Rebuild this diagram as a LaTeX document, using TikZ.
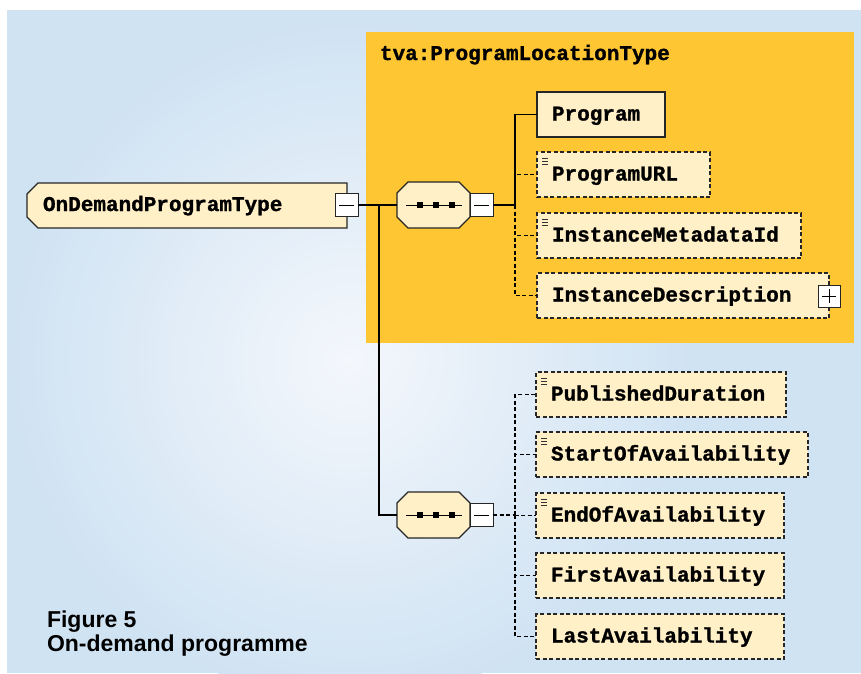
\documentclass[tikz,border=0pt]{standalone}
\usepackage{fontspec}
\setmainfont{Liberation Sans}
\setmonofont[BoldFeatures={FakeBold=1.2}]{Liberation Mono}
\usetikzlibrary{calc}
\definecolor{bgblue}{HTML}{D0E3F3}
\definecolor{bglight}{HTML}{F4F7FC}
\definecolor{orangebg}{HTML}{FEC632}
\definecolor{cream}{HTML}{FFF0C8}
\begin{document}
\begin{tikzpicture}[x=1pt,y=-1pt,
  every node/.style={inner sep=0pt, outer sep=0pt},
  elembox/.style={draw=black!85, line width=1.1pt, fill=cream, minimum height=45pt, anchor=north west},
  optbox/.style={elembox, dash pattern=on 4pt off 2.5pt},
  lbl/.style={font=\ttfamily\bfseries\fontsize{21}{25}\selectfont, text height=12pt, text depth=0pt, anchor=west},
  conn/.style={draw=black, line width=1.1pt},
  dconn/.style={conn, dash pattern=on 4pt off 2.5pt},
  btn/.style={draw=black!85, fill=white, line width=1pt, minimum width=23pt, minimum height=23pt, anchor=west},
  seqshape/.style={draw=black!85, line width=1.1pt, fill=cream},
  icon/.style={draw=black!80, line width=0.8pt},
  caption/.style={font=\bfseries\fontsize{23}{24}\selectfont, anchor=base west, align=left},
]
\useasboundingbox (0,0) rectangle (861,673);
% background
\fill[white] (0,0) rectangle (861,673);
\begin{scope}
  \clip (7,10) rectangle (861,673);
  \fill[bgblue] (7,10) rectangle (861,673);
  \shade[inner color=bglight, outer color=bgblue] (350,360) circle (340);
\end{scope}
\fill[orangebg] (366,32) rectangle (854,343);
\node[lbl, anchor=base west] (title) at (380,60) {tva:ProgramLocationType};

% main type
\node[minimum width=320pt, minimum height=45pt, anchor=north west] (odpt) at (27,183) {};
\draw[seqshape] (odpt.north east) -- ([xshift=11pt]odpt.north west) -- ([yshift=-11pt]odpt.north west)
  -- ([yshift=11pt]odpt.south west) -- ([xshift=11pt]odpt.south west) -- (odpt.south east) -- cycle;
\node[lbl] (odptlbl) at (43,205) {OnDemandProgramType};
\node[btn] (odptbtn) at (335,205) {};
\draw[line width=1pt] ([xshift=4pt]odptbtn.west) -- ([xshift=-4pt]odptbtn.east);

% sequence compositors
\foreach \nm/\yy in {seqa/205, seqb/515} {
  \node[minimum width=73pt, minimum height=46pt, anchor=west] (\nm) at (397,\yy) {};
  \draw[seqshape] ([xshift=11pt]\nm.north west) -- ([xshift=-11pt]\nm.north east) -- ([yshift=-11pt]\nm.north east)
    -- ([yshift=11pt]\nm.south east) -- ([xshift=-11pt]\nm.south east) -- ([xshift=11pt]\nm.south west)
    -- ([yshift=11pt]\nm.south west) -- ([yshift=-11pt]\nm.north west) -- cycle;
  \draw[line width=0.9pt] ([xshift=9pt]\nm.west) -- ([xshift=-8pt]\nm.east);
  \foreach \dx in {23,39,55} {
    \fill ([xshift=\dx pt]\nm.west) ++(-2.8pt,-2.8pt) rectangle ++(5.6pt,5.6pt);
  }
  \node[btn] (\nm btn) at (470,\yy) {};
  \draw[line width=1pt] ([xshift=4pt]\nm btn.west) -- ([xshift=-4pt]\nm btn.east);
}

% upper children
\node[elembox, minimum width=128pt] (prog) at (537,92) {};
\node[optbox, minimum width=173pt] (url) at (537,152) {};
\node[optbox, minimum width=264pt] (imid) at (537,213) {};
\node[optbox, minimum width=292pt] (idesc) at (537,273) {};
% lower children
\node[optbox, minimum width=250pt] (pdur) at (536,372) {};
\node[optbox, minimum width=272pt] (soa) at (536,432) {};
\node[optbox, minimum width=248pt] (eoa) at (536,493) {};
\node[optbox, minimum width=248pt] (fa) at (536,553) {};
\node[optbox, minimum width=248pt] (la) at (536,614) {};

\foreach \nm/\txt in {prog/Program, url/ProgramURL, imid/InstanceMetadataId, idesc/InstanceDescription,
  pdur/PublishedDuration, soa/StartOfAvailability, eoa/EndOfAvailability, fa/FirstAvailability, la/LastAvailability} {
  \node[lbl] (\nm lbl) at ([xshift=15pt]\nm.west) {\txt};
}
\foreach \nm in {url, imid, pdur, soa, eoa} {
  \draw[icon] ([shift={(5pt,-6pt)}]\nm.north west) -- ++(5.5pt,0);
  \draw[icon] ([shift={(5pt,-9pt)}]\nm.north west) -- ++(5.5pt,0);
  \draw[icon] ([shift={(5pt,-12pt)}]\nm.north west) -- ++(5.5pt,0);
}
% plus button
\node[btn, minimum width=22pt, minimum height=22pt] (idescbtn) at (818,296) {};
\draw[line width=1pt] ([xshift=4pt]idescbtn.west) -- ([xshift=-4pt]idescbtn.east)
  ([yshift=-4pt]idescbtn.north) -- ([yshift=4pt]idescbtn.south);

% connectors
\coordinate (j) at (379,205);
\coordinate (ba) at (515,205);
\coordinate (bb) at (515,515);
\draw[conn] (odptbtn.east) -- (seqa.west);
\draw[conn] (j) |- (seqb.west);
\draw[conn] (seqabtn.east) -- (ba);
\draw[dconn] (ba) |- (url.west);
\draw[dconn] (ba) |- (imid.west);
\draw[dconn] (ba) |- (idesc.west);
\draw[conn] (ba) |- (prog.west);
\draw[dconn] (seqbbtn.east) -- (bb);
\foreach \nm in {pdur, soa, eoa, fa, la} {
  \draw[dconn] (bb) |- (\nm.west);
}

% caption
\node[caption] (cap1) at (47,627) {Figure 5};
\node[caption] (cap2) at (47,651) {On-demand programme};
\end{tikzpicture}
\end{document}
